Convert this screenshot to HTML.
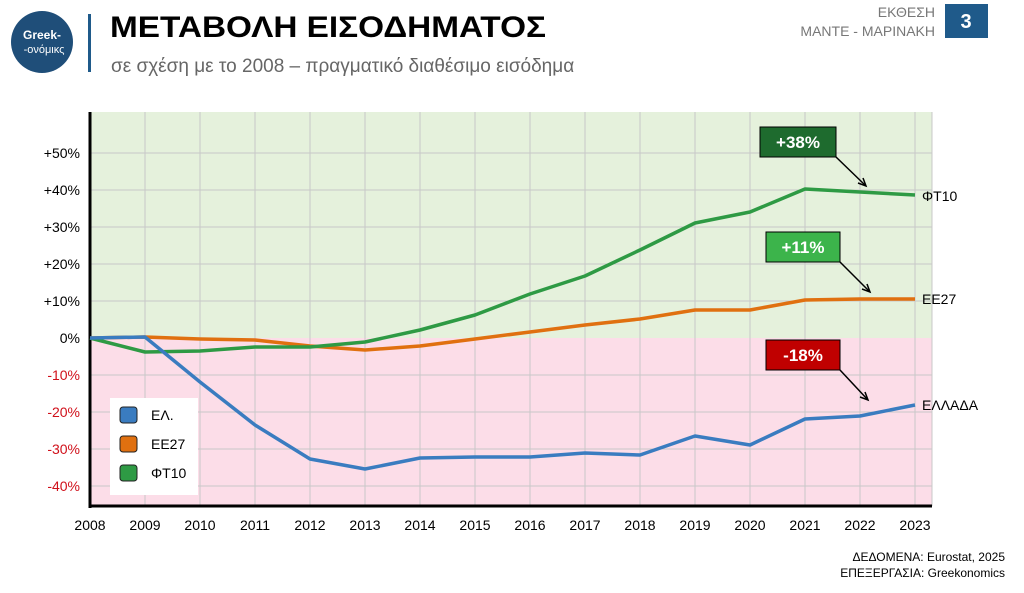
<!DOCTYPE html>
<html><head><meta charset="utf-8"><style>
body{margin:0;width:1024px;height:588px;background:#fff;overflow:hidden;font-family:"Liberation Sans","DejaVu Sans",sans-serif;}
</style></head><body>
<svg width="1024" height="588" xmlns="http://www.w3.org/2000/svg" font-family="Liberation Sans, DejaVu Sans, sans-serif">
<circle cx="42" cy="42" r="31" fill="#1f4e79"/>
<text x="42" y="39" font-size="12" fill="#fff" text-anchor="middle" font-weight="bold">Greek-</text>
<text x="44" y="53" font-size="11" fill="#fff" text-anchor="middle">-ονόμικς</text>
<rect x="88" y="14" width="3" height="58" fill="#1f5a8a"/>
<text x="110" y="37" font-size="30" font-weight="bold" fill="#000" textLength="436" lengthAdjust="spacingAndGlyphs">ΜΕΤΑΒΟΛΗ ΕΙΣΟΔΗΜΑΤΟΣ</text>
<text x="111" y="72" font-size="19" fill="#666">σε σχέση με το 2008 – πραγματικό διαθέσιμο εισόδημα</text>
<text x="935" y="17" font-size="14" fill="#777" text-anchor="end">ΕΚΘΕΣΗ</text>
<text x="935" y="36" font-size="14" fill="#777" text-anchor="end">ΜΑΝΤΕ - ΜΑΡΙΝΑΚΗ</text>
<rect x="945" y="4" width="43" height="34" fill="#1f5a8a"/>
<text x="966" y="28" font-size="20" font-weight="bold" fill="#fff" text-anchor="middle">3</text>
<rect x="90" y="112" width="842" height="226" fill="#e5f1dc"/>
<rect x="90" y="338" width="842" height="168" fill="#fcdde8"/>
<g stroke="#c8c8c8" stroke-width="1">
<line x1="145" y1="112" x2="145" y2="506"/><line x1="200" y1="112" x2="200" y2="506"/><line x1="255" y1="112" x2="255" y2="506"/><line x1="310" y1="112" x2="310" y2="506"/><line x1="365" y1="112" x2="365" y2="506"/><line x1="420" y1="112" x2="420" y2="506"/><line x1="475" y1="112" x2="475" y2="506"/><line x1="530" y1="112" x2="530" y2="506"/><line x1="585" y1="112" x2="585" y2="506"/><line x1="640" y1="112" x2="640" y2="506"/><line x1="695" y1="112" x2="695" y2="506"/><line x1="750" y1="112" x2="750" y2="506"/><line x1="805" y1="112" x2="805" y2="506"/><line x1="860" y1="112" x2="860" y2="506"/><line x1="915" y1="112" x2="915" y2="506"/><line x1="932" y1="112" x2="932" y2="506"/>
<line x1="90" y1="153" x2="932" y2="153"/><line x1="90" y1="190" x2="932" y2="190"/><line x1="90" y1="227" x2="932" y2="227"/><line x1="90" y1="264" x2="932" y2="264"/><line x1="90" y1="301" x2="932" y2="301"/><line x1="90" y1="375" x2="932" y2="375"/><line x1="90" y1="412" x2="932" y2="412"/><line x1="90" y1="449" x2="932" y2="449"/><line x1="90" y1="486" x2="932" y2="486"/>
</g>
<g font-size="14" text-anchor="end">
<text x="80" y="158">+50%</text><text x="80" y="195">+40%</text><text x="80" y="232">+30%</text><text x="80" y="269">+20%</text><text x="80" y="306">+10%</text><text x="80" y="343">0%</text>
<g fill="#d0101a"><text x="80" y="380">-10%</text><text x="80" y="417">-20%</text><text x="80" y="454">-30%</text><text x="80" y="491">-40%</text></g>
</g>
<line x1="90" y1="112" x2="90" y2="508" stroke="#000" stroke-width="3"/>
<line x1="89" y1="506" x2="932" y2="506" stroke="#000" stroke-width="3"/>
<g font-size="14" text-anchor="middle">
<text x="90" y="530">2008</text><text x="145" y="530">2009</text><text x="200" y="530">2010</text><text x="255" y="530">2011</text><text x="310" y="530">2012</text><text x="365" y="530">2013</text><text x="420" y="530">2014</text><text x="475" y="530">2015</text><text x="530" y="530">2016</text><text x="585" y="530">2017</text><text x="640" y="530">2018</text><text x="695" y="530">2019</text><text x="750" y="530">2020</text><text x="805" y="530">2021</text><text x="860" y="530">2022</text><text x="915" y="530">2023</text>
</g>
<g fill="none" stroke-width="3.5" stroke-linejoin="round">
<polyline stroke="#e07010" points="90,338 145,337 200,339 255,340 310,346 365,350 420,346 475,339 530,332 585,325 640,319 695,310 750,310 805,300 860,299 915,299"/>
<polyline stroke="#2e9a44" points="90,338 145,352 200,351 255,347 310,347 365,342 420,330 475,315 530,294 585,276 640,250 695,223 750,212 805,189 860,192 915,195"/>
<polyline stroke="#3a7cc0" points="90,338 145,337 200,382 255,425 310,459 365,469 420,458 475,457 530,457 585,453 640,455 695,436 750,445 805,419 860,416 915,405"/>
</g>
<rect x="110" y="398" width="88" height="97" fill="#fff"/>
<rect x="120" y="407" width="17" height="16" rx="3" fill="#3a7cc0" stroke="#222"/>
<rect x="120" y="436" width="17" height="16" rx="3" fill="#e07010" stroke="#222"/>
<rect x="120" y="465" width="17" height="16" rx="3" fill="#2e9a44" stroke="#222"/>
<g font-size="14"><text x="151" y="420">ΕΛ.</text><text x="151" y="449">ΕΕ27</text><text x="151" y="478">ΦΤ10</text></g>
<g font-size="14"><text x="922" y="201">ΦΤ10</text><text x="922" y="304">ΕΕ27</text><text x="922" y="410">ΕΛΛΑΔΑ</text></g>
<g stroke="#000" stroke-width="1.5" fill="none">
<polyline points="836,157 866,186"/><polyline points="858,183 866,186 863,178"/>
<polyline points="840,262 870,292"/><polyline points="862,289 870,292 867,284"/>
<polyline points="840,370 868,400"/><polyline points="860,397 868,400 865,392"/>
</g>
<rect x="760" y="127" width="76" height="30" fill="#1e6b2e" stroke="#000"/>
<text x="798" y="148" font-size="17" font-weight="bold" fill="#fff" text-anchor="middle">+38%</text>
<rect x="766" y="232" width="74" height="30" fill="#3cb44b" stroke="#000"/>
<text x="803" y="253" font-size="17" font-weight="bold" fill="#fff" text-anchor="middle">+11%</text>
<rect x="766" y="340" width="74" height="30" fill="#c00000" stroke="#000"/>
<text x="803" y="361" font-size="17" font-weight="bold" fill="#fff" text-anchor="middle">-18%</text>
<text x="1005" y="561" font-size="12" text-anchor="end">ΔΕΔΟΜΕΝΑ: Eurostat, 2025</text>
<text x="1005" y="577" font-size="12" text-anchor="end">ΕΠΕΞΕΡΓΑΣΙΑ: Greekonomics</text>
</svg>
</body></html>
